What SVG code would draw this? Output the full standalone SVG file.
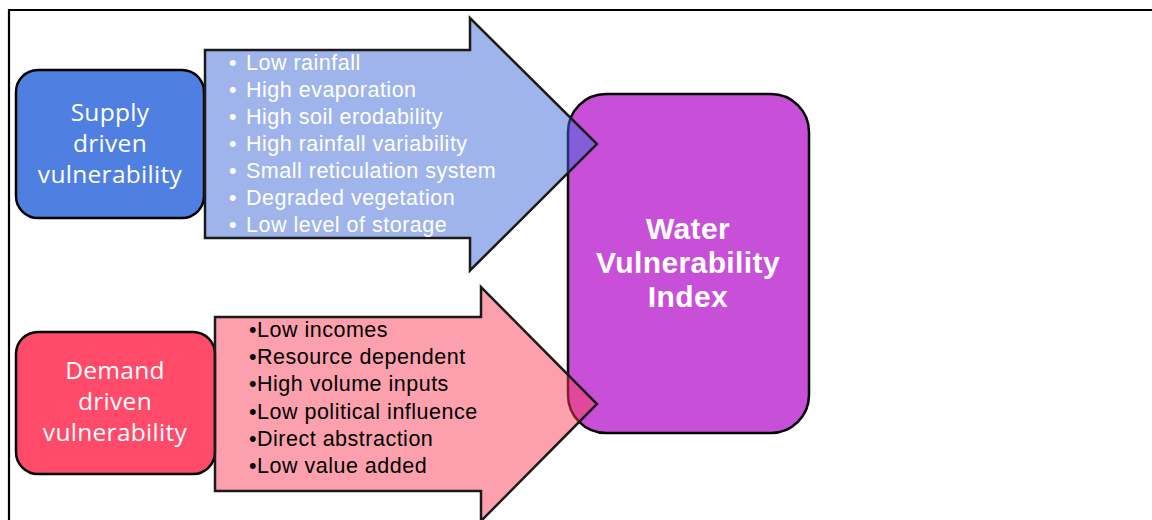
<svg xmlns="http://www.w3.org/2000/svg" width="1152" height="520" viewBox="0 0 1152 520">
<style>
.box{stroke:#000;stroke-width:2.5}
.arrow{stroke:#1a1a1a;stroke-width:2.5;stroke-linejoin:miter}
.lbl{font-family:"Open Sans","Noto Sans",sans-serif;font-size:24.5px;letter-spacing:0.3px;fill:#fff;text-anchor:middle}
.wl{font-family:"Liberation Sans",Arial,sans-serif;font-size:21.5px;letter-spacing:0.5px;fill:#fff}
.bl{font-family:"Liberation Sans",Arial,sans-serif;font-size:21.5px;letter-spacing:0.5px;fill:#000}
.idx{font-family:"Liberation Sans",Arial,sans-serif;font-size:30px;letter-spacing:0.4px;font-weight:bold;fill:#fff;text-anchor:middle}
</style>
<rect width="1152" height="520" fill="#fff"/>
<path d="M9,520 V10 H1152" fill="none" stroke="#000" stroke-width="2.2"/>
<g id="supply">
<rect class="box" x="16" y="70" width="188" height="148" rx="22" fill="#4f7fe0"/>
<text class="lbl" x="110" y="121">Supply</text>
<text class="lbl" x="110" y="152">driven</text>
<text class="lbl" x="110" y="183">vulnerability</text>
</g>
<g id="demand">
<rect class="box" x="16" y="332" width="199" height="142" rx="22" fill="#ff4a6a"/>
<text class="lbl" x="115" y="379">Demand</text>
<text class="lbl" x="115" y="410">driven</text>
<text class="lbl" x="115" y="441">vulnerability</text>
</g>
<g id="index">
<rect class="box" x="568" y="94" width="241" height="339" rx="38" fill="#c84fd8"/>
<text class="idx" x="688" y="239">Water</text>
<text class="idx" x="688" y="273">Vulnerability</text>
<text class="idx" x="688" y="307">Index</text>
</g>
<g id="connectors">
<g id="supply-arrow">
<path class="arrow" d="M205,50 H470 V18 L597,144 L470,270.5 V238 H205 Z" fill="rgba(65,105,217,0.5)"/>
<g class="wl">
<text x="229" y="70">•</text><text x="246" y="70">Low rainfall</text>
<text x="229" y="97">•</text><text x="246" y="97">High evaporation</text>
<text x="229" y="124">•</text><text x="246" y="124">High soil erodability</text>
<text x="229" y="151">•</text><text x="246" y="151">High rainfall variability</text>
<text x="229" y="178">•</text><text x="246" y="178">Small reticulation system</text>
<text x="229" y="205">•</text><text x="246" y="205">Degraded vegetation</text>
<text x="229" y="232">•</text><text x="246" y="232">Low level of storage</text>
</g>
</g>
<g id="demand-arrow">
<path class="arrow" d="M215,317 H481 V287 L597,404 L481,521 V491 H215 Z" fill="rgba(249,65,93,0.5)"/>
<g class="bl">
<text x="249" y="337">•Low incomes</text>
<text x="249" y="364">•Resource dependent</text>
<text x="249" y="391">•High volume inputs</text>
<text x="249" y="418.5">•Low political influence</text>
<text x="249" y="446">•Direct abstraction</text>
<text x="249" y="473">•Low value added</text>
</g>
</g>
</g>
</svg>
